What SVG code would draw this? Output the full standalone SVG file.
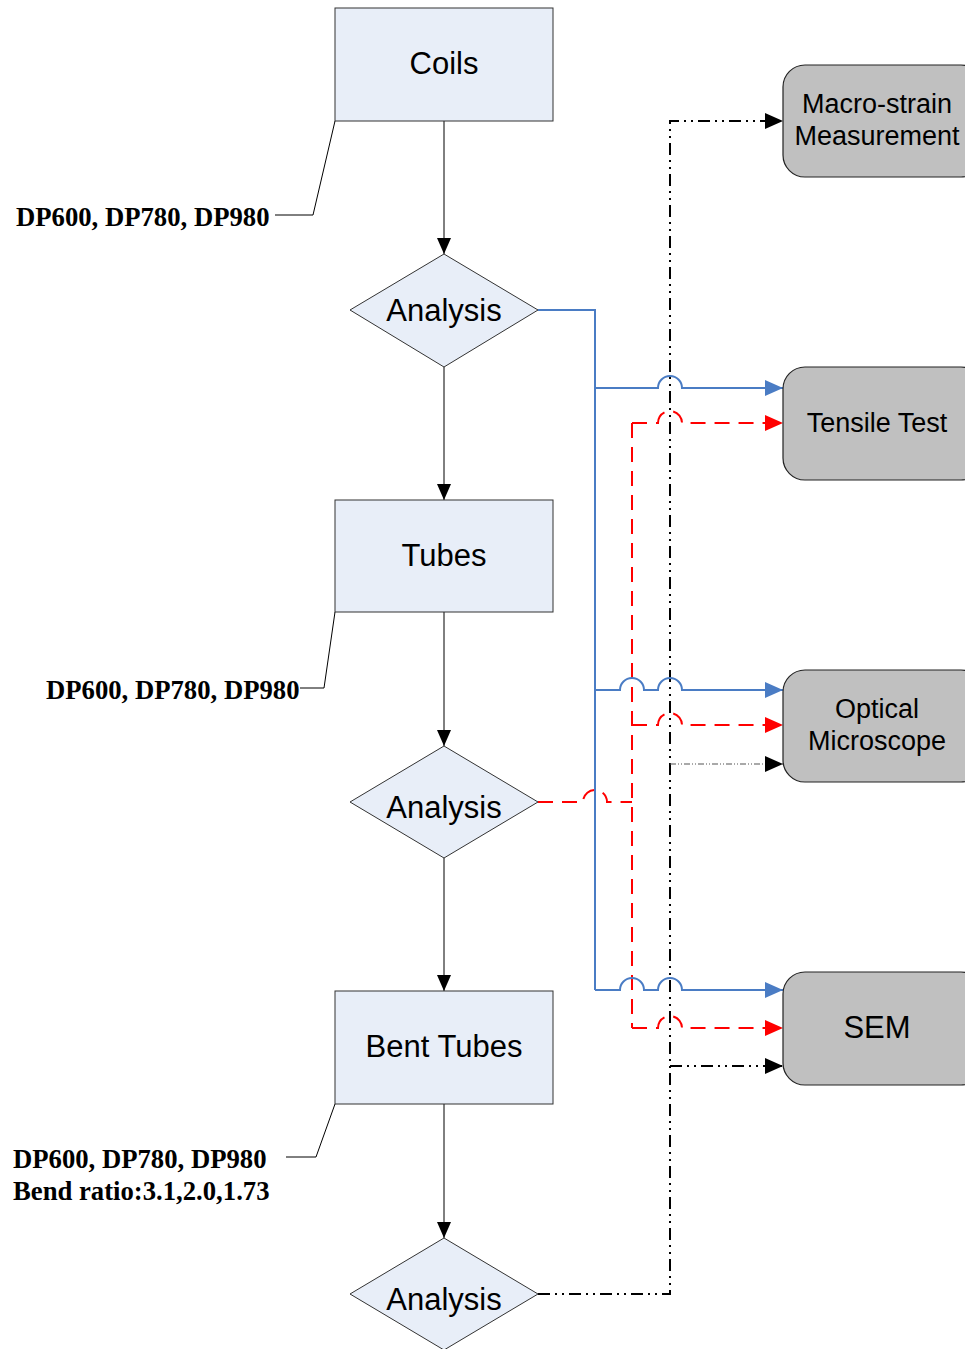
<svg xmlns="http://www.w3.org/2000/svg" width="965" height="1349" viewBox="0 0 965 1349">
  <style>
    .box { fill: #e8eef8; stroke: #333; stroke-width: 1; }
    .rnode { fill: #c0c0c0; stroke: #222; stroke-width: 1.2; }
    .lbl { font-family: "Liberation Sans", Arial, sans-serif; font-size: 31px; fill: #000; text-anchor: middle; }
    .rlbl { font-family: "Liberation Sans", Arial, sans-serif; font-size: 27px; fill: #000; text-anchor: middle; }
    .note { font-family: "Liberation Serif", "Times New Roman", serif; font-size: 26.7px; font-weight: bold; fill: #000; }
    .flow { fill: none; stroke: #000; stroke-width: 1; }
    .callout { fill: none; stroke: #000; stroke-width: 1; }
    .blue { fill: none; stroke: #4a7cc4; stroke-width: 2; }
    .red { fill: none; stroke: #ff0000; stroke-width: 2; stroke-dasharray: 15 9; }
    .dashdot { fill: none; stroke: #000; stroke-width: 2; stroke-dasharray: 12 5 2 5 2 5; }
    .dotted { fill: none; stroke: #555; stroke-width: 1.2; stroke-dasharray: 6 2 1 2 1 2; }
  </style>
  <defs>
    <marker id="arrBlack" markerUnits="userSpaceOnUse" markerWidth="16" markerHeight="16" refX="16" refY="8" orient="auto">
      <path d="M0,1 L16,8 L0,15 Z" fill="#000"/>
    </marker>
    <marker id="arrBlue" markerUnits="userSpaceOnUse" markerWidth="18" markerHeight="18" refX="18" refY="9" orient="auto">
      <path d="M0,1 L18,9 L0,17 Z" fill="#4a7cc4"/>
    </marker>
    <marker id="arrRed" markerUnits="userSpaceOnUse" markerWidth="18" markerHeight="18" refX="18" refY="9" orient="auto">
      <path d="M0,1 L18,9 L0,17 Z" fill="#ff0000"/>
    </marker>
    <marker id="arrDark" markerUnits="userSpaceOnUse" markerWidth="18" markerHeight="18" refX="18" refY="9" orient="auto">
      <path d="M0,1 L18,9 L0,17 Z" fill="#000"/>
    </marker>
  </defs>

  <!-- connectors -->
  <g id="connectors">
    <!-- main flow -->
    <path class="flow" d="M444,121 V254" marker-end="url(#arrBlack)"/>
    <path class="flow" d="M444,367 V500" marker-end="url(#arrBlack)"/>
    <path class="flow" d="M444,612 V746" marker-end="url(#arrBlack)"/>
    <path class="flow" d="M444,858 V991" marker-end="url(#arrBlack)"/>
    <path class="flow" d="M444,1104 V1238" marker-end="url(#arrBlack)"/>

    <!-- callouts -->
    <path class="callout" d="M335,121 L313,215 H275"/>
    <path class="callout" d="M335,612 L324,688 H300"/>
    <path class="callout" d="M335,1104 L316,1157 H286"/>

    <!-- dash-dot trunk from the last analysis -->
    <path class="dashdot" d="M538,1294 H670 V121 H783" marker-end="url(#arrDark)"/>
    <path class="dotted" d="M670,764 H783" marker-end="url(#arrDark)"/>
    <path class="dashdot" d="M670,1066 H783" marker-end="url(#arrDark)"/>

    <!-- red dashed from the middle analysis -->
    <path class="red" d="M538,802 H583 A12,12 0 0 1 607,802 H632"/>
    <path class="red" d="M632,423 V1028"/>
    <path class="red" d="M632,423 H658 A12,12 0 0 1 682,423 H783" marker-end="url(#arrRed)"/>
    <path class="red" d="M632,725 H658 A12,12 0 0 1 682,725 H783" marker-end="url(#arrRed)"/>
    <path class="red" d="M632,1028 H658 A12,12 0 0 1 682,1028 H783" marker-end="url(#arrRed)"/>

    <!-- blue from the first analysis -->
    <path class="blue" d="M538,310 H595 V990"/>
    <path class="blue" d="M595,388 H658 A12,12 0 0 1 682,388 H783" marker-end="url(#arrBlue)"/>
    <path class="blue" d="M595,690 H620 A12,12 0 0 1 644,690 H658 A12,12 0 0 1 682,690 H783" marker-end="url(#arrBlue)"/>
    <path class="blue" d="M595,990 H620 A12,12 0 0 1 644,990 H658 A12,12 0 0 1 682,990 H783" marker-end="url(#arrBlue)"/>
  </g>

  <!-- left column -->
  <g id="coils">
    <rect class="box" x="335" y="8" width="218" height="113"/>
    <text class="lbl" x="444" y="74">Coils</text>
  </g>
  <g id="analysis1">
    <polygon class="box" points="444,254 538,310 444,367 350,310"/>
    <text class="lbl" x="444" y="321">Analysis</text>
  </g>
  <g id="tubes">
    <rect class="box" x="335" y="500" width="218" height="112"/>
    <text class="lbl" x="444" y="566">Tubes</text>
  </g>
  <g id="analysis2">
    <polygon class="box" points="444,746 538,802 444,858 350,802"/>
    <text class="lbl" x="444" y="818">Analysis</text>
  </g>
  <g id="bent-tubes">
    <rect class="box" x="335" y="991" width="218" height="113"/>
    <text class="lbl" x="444" y="1057">Bent Tubes</text>
  </g>
  <g id="analysis3">
    <polygon class="box" points="444,1238 538,1294 444,1350 350,1294"/>
    <text class="lbl" x="444" y="1310">Analysis</text>
  </g>

  <!-- notes -->
  <g id="note-coils">
    <text class="note" x="16" y="226">DP600, DP780, DP980</text>
  </g>
  <g id="note-tubes">
    <text class="note" x="46" y="699">DP600, DP780, DP980</text>
  </g>
  <g id="note-bent">
    <text class="note" x="13" y="1168">DP600, DP780, DP980</text>
    <text class="note" x="13" y="1200">Bend ratio:3.1,2.0,1.73</text>
  </g>

  <!-- right column -->
  <g id="macro-strain">
    <rect class="rnode" x="783" y="65" width="200" height="112" rx="22"/>
    <text class="rlbl" x="877" y="113">Macro-strain</text>
    <text class="rlbl" x="877" y="145">Measurement</text>
  </g>
  <g id="tensile">
    <rect class="rnode" x="783" y="367" width="200" height="113" rx="22"/>
    <text class="rlbl" x="877" y="432">Tensile Test</text>
  </g>
  <g id="optical">
    <rect class="rnode" x="783" y="670" width="200" height="112" rx="22"/>
    <text class="rlbl" x="877" y="718">Optical</text>
    <text class="rlbl" x="877" y="750">Microscope</text>
  </g>
  <g id="sem">
    <rect class="rnode" x="783" y="972" width="200" height="113" rx="22"/>
    <text class="lbl" x="877" y="1038">SEM</text>
  </g>
</svg>
